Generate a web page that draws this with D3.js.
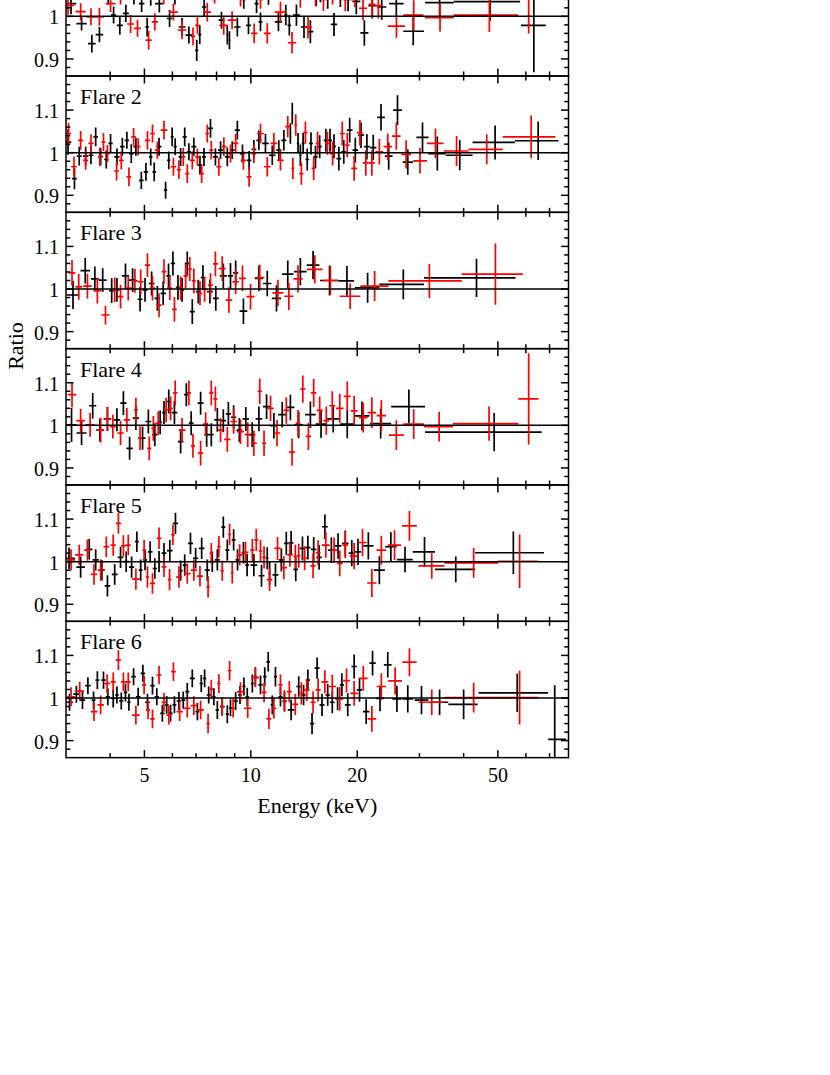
<!DOCTYPE html>
<html>
<head>
<meta charset="utf-8">
<script src="https://cdn.jsdelivr.net/npm/d3@7"></script>
<style>
  body { margin: 0; background: #fff; }
  text { font-family: "Liberation Serif", "Times New Roman", serif; fill: #000; }
</style>
</head>
<body>
<div id="chart"></div>
<script>
// ---- data: [energy keV, ratio, error] or [energy, ratio, error, binLo, binHi] for wide bins ----
const panelLabels = ["Flare 1", "Flare 2", "Flare 3", "Flare 4", "Flare 5", "Flare 6"]
const xMajorTicks = [5, 10, 20, 50]
const xMinorTicks = [4, 6, 7, 8, 9, 30, 40, 60, 70]
const yMajorTicks = [0.9, 1.0, 1.1]
const yTickLabels = ["0.9", "1", "1.1"]
const yMinorTicks = [0.88, 0.92, 0.94, 0.96, 0.98, 1.02, 1.04, 1.06, 1.08, 1.12, 1.14, 1.16]
const energyDomain = [3, 79.2]
const ratioDomain = [0.86, 1.18]

const flare1Black = [
  [3.10,1.030,.025],[3.32,0.983,.016],[3.55,0.936,.021],[3.73,0.957,.018],[3.95,1.050,.022],[4.09,1.003,.02],[4.26,0.979,.022],[4.43,1.007,.02],[4.67,1.050,.022],[4.91,1.030,.02],[5.09,0.975,.022],[5.21,1.045,.02],[5.51,1.030,.021],[5.89,0.995,.02],[6.10,1.050,.022],[6.39,0.975,.021],[6.68,0.956,.02],[7.03,0.920,.025],[7.17,0.957,.022],[7.38,1.022,.021],[7.79,1.060,.022],[8.26,0.991,.02],[8.58,0.956,.022],[8.70,0.944,.021],[9.16,0.975,.022],[9.55,1.040,.022],[9.85,0.979,.021],[10.38,1.030,.022],[10.65,0.987,.022],[11.22,1.050,.023],[11.97,0.987,.022],[12.56,1.003,.024],[12.85,0.979,.024],[13.46,1.003,.025],[14.14,0.975,.026],[14.74,0.964,.027],[15.32,1.050,.026],[15.73,1.060,.027],[16.50,1.045,.027],[17.19,0.981,.027],[17.92,1.050,.028],[18.84,1.040,.028],[19.88,1.035,.03],[20.95,0.961,.03],[22.07,1.025,.03],[23.46,1.022,.03],[25.80,1.030,.032],
  [28.8,0.965,.033,27.0,30.9],[34.2,1.032,.038,31.1,37.5],[47.5,1.0345,.045,37.5,57.8],[63.2,0.979,.11,58.1,68.3]
]
const flare1Red = [
  [3.04,1.026,.022],[3.30,1.011,.02],[3.53,0.999,.02],[3.73,0.999,.021],[4.01,1.030,.02],[4.28,1.050,.022],[4.57,0.982,.021],[4.78,0.972,.02],[5.14,0.944,.022],[5.35,0.987,.02],[5.67,1.050,.021],[6.04,1.010,.02],[6.39,0.968,.022],[6.86,0.953,.021],[7.06,0.979,.02],[7.53,1.010,.022],[7.90,1.050,.02],[8.38,0.979,.022],[8.85,0.991,.021],[9.35,1.045,.022],[10.22,0.960,.023],[10.65,1.040,.022],[11.13,0.960,.024],[12.13,1.010,.024],[13.08,0.938,.025],[13.81,1.045,.025],[14.52,0.974,.026],[15.24,1.050,.026],[16.05,1.040,.027],[17.03,1.055,.027],[18.50,1.040,.028],[19.70,1.050,.028],[20.77,1.019,.028],[22.02,1.028,.03],[22.95,1.025,.03],[25.82,0.977,.027],
  [28.9,1.003,.035,27.0,30.8],[34.3,0.997,.033,31.1,37.5],[47.3,1.003,.04,37.5,57.1],[61.1,1.060,.10,57.4,64.8]
]
const flare2Black = [
  [3.04,1.025,.03],[3.17,0.939,.025],[3.27,0.992,.022],[3.41,0.992,.022],[3.53,0.994,.021],[3.64,1.037,.022],[3.76,0.991,.02],[3.90,0.984,.021],[4.01,1.022,.022],[4.18,0.990,.02],[4.33,1.014,.021],[4.46,1.029,.02],[4.59,0.998,.022],[4.73,1.014,.021],[4.90,0.935,.02],[5.05,0.955,.021],[5.21,0.990,.02],[5.33,0.955,.022],[5.50,1.014,.021],[5.74,0.912,.02],[5.86,0.982,.021],[5.99,1.037,.022],[6.11,1.014,.02],[6.33,0.990,.021],[6.50,1.037,.022],[6.68,1.002,.02],[6.90,1.014,.021],[7.18,0.971,.022],[7.37,0.990,.021],[7.69,1.057,.022],[7.94,0.990,.02],[8.21,1.006,.021],[8.58,0.990,.022],[8.86,1.006,.021],[9.16,1.053,.022],[9.47,0.998,.021],[9.89,0.982,.022],[10.20,1.008,.022],[10.54,1.029,.023],[11.00,1.022,.022],[11.50,0.994,.023],[12.00,1.006,.023],[12.40,1.029,.024],[12.94,1.045,.024],[13.10,1.092,.025],[13.60,1.022,.024],[13.81,0.994,.025],[14.06,1.022,.025],[14.44,0.984,.026],[14.80,1.022,.026],[15.24,0.990,.026],[15.66,1.014,.027],[16.30,1.029,.027],[16.75,1.029,.027],[17.19,1.015,.028],[17.74,0.986,.028],[18.32,1.002,.028],[19.04,1.053,.029],[19.75,1.006,.029],[20.50,1.041,.03],[21.30,1.014,.03],[22.20,1.012,.03],[23.35,1.083,.031],[24.55,0.992,.032],[26.00,1.100,.035],[27.80,0.978,.03],
  [30.6,1.036,.035,29.4,31.8],[33.7,0.998,.04,31.8,35.6],[39.0,0.994,.035,35.6,42.4],[49.1,1.024,.04,42.4,55.9],[65.0,1.028,.045,55.9,74.1]
]
const flare2Red = [
  [3.05,1.045,.025],[3.16,0.967,.024],[3.30,1.029,.022],[3.41,0.982,.022],[3.53,1.022,.021],[3.74,0.990,.022],[3.83,1.025,.021],[3.93,0.998,.02],[4.17,0.957,.022],[4.30,0.982,.021],[4.52,0.943,.022],[4.66,1.037,.021],[4.80,1.014,.02],[5.10,1.029,.022],[5.27,1.045,.021],[5.44,1.006,.02],[5.68,1.053,.022],[6.04,0.967,.021],[6.26,0.960,.022],[6.44,0.990,.021],[6.61,0.951,.022],[6.83,0.982,.021],[7.06,0.990,.02],[7.26,0.951,.022],[7.53,1.045,.021],[7.73,1.006,.022],[8.12,0.967,.021],[8.39,1.014,.022],[8.76,0.998,.021],[9.06,1.022,.022],[9.53,0.982,.022],[9.89,0.943,.023],[10.20,0.998,.022],[10.65,1.045,.023],[11.13,0.967,.023],[11.62,1.022,.024],[12.13,0.982,.024],[12.72,1.061,.025],[13.15,0.963,.025],[13.40,1.065,.025],[13.90,0.951,.026],[14.27,1.047,.026],[15.06,0.963,.027],[15.45,1.022,.027],[16.47,1.022,.027],[17.03,0.998,.028],[18.14,1.045,.028],[18.74,1.018,.028],[19.60,0.963,.029],[20.35,1.047,.03],[21.15,0.976,.03],[22.00,0.976,.03],[23.10,1.002,.03],[24.40,1.014,.031],[25.80,1.039,.032],[27.50,0.996,.033],
  [30.1,0.981,.03,28.8,31.5],[33.3,1.022,.035,31.5,35.1],[38.2,1.004,.035,35.1,41.3],[46.5,1.008,.035,41.3,51.6],[62.1,1.037,.05,51.6,72.7]
]
const flare3Black = [
  [3.14,0.986,.033],[3.40,1.043,.03],[3.62,1.024,.029],[3.81,1.021,.028],[4.04,0.996,.029],[4.18,0.998,.028],[4.42,1.031,.029],[4.63,1.021,.028],[4.86,0.976,.029],[5.02,0.998,.028],[5.24,1.013,.028],[5.44,0.978,.029],[5.65,0.990,.028],[5.85,1.031,.029],[6.02,1.060,.028],[6.22,1.004,.029],[6.39,0.998,.028],[6.61,1.060,.028],[6.83,0.947,.029],[7.10,0.994,.028],[7.32,1.027,.029],[7.66,0.994,.028],[7.96,0.978,.029],[8.36,1.031,.029],[8.76,1.031,.03],[9.06,1.038,.029],[9.53,0.948,.03],[10.54,1.025,.03],[11.13,1.013,.03],[11.82,0.978,.031],[12.72,1.035,.032],[13.81,1.041,.032],[15.00,1.056,.033],
  [16.7,1.020,.035,15.7,17.7],[18.7,1.019,.035,17.7,19.6],[21.4,1.003,.035,19.7,23.1],[27.0,1.011,.035,23.1,30.9],[43.5,1.026,.045,30.9,56.1]
]
const flare3Red = [
  [3.12,1.038,.03],[3.26,1.005,.03],[3.45,1.007,.029],[3.68,0.996,.03],[3.88,0.939,.022],[4.12,0.998,.029],[4.28,0.982,.028],[4.50,1.002,.029],[4.70,1.019,.028],[4.88,1.017,.029],[5.10,1.056,.028],[5.27,1.002,.029],[5.50,0.962,.028],[5.68,1.041,.029],[5.90,1.002,.028],[6.08,0.952,.029],[6.33,1.002,.028],[6.54,1.031,.029],[6.72,1.047,.028],[6.90,1.019,.029],[7.18,0.990,.028],[7.40,0.999,.029],[7.69,1.009,.028],[7.94,1.059,.029],[8.30,1.048,.029],[8.67,0.974,.03],[9.06,1.017,.029],[9.47,1.025,.03],[9.98,0.982,.03],[10.60,1.027,.03],[11.93,0.991,.031],[12.81,0.983,.032],[13.60,1.024,.032],[15.17,1.046,.033],[16.79,1.020,.034],
  [19.1,0.983,.03,17.85,20.4],[22.4,1.007,.035,20.4,24.5],[32.0,1.019,.04,24.5,39.5],[49.2,1.035,.072,39.5,58.8]
]
const flare4Black = [
  [3.11,1.001,.04],[3.32,0.982,.028],[3.57,1.046,.03],[3.74,0.989,.027],[3.93,1.015,.028],[4.18,1.013,.027],[4.36,1.052,.028],[4.54,0.946,.027],[4.73,1.017,.028],[4.94,0.970,.027],[5.13,1.009,.028],[5.35,0.978,.027],[5.54,1.007,.028],[5.68,1.030,.027],[5.86,1.056,.028],[6.08,1.030,.027],[6.33,0.962,.028],[6.57,1.072,.027],[6.78,1.005,.028],[7.21,1.052,.027],[7.50,0.978,.028],[7.73,0.978,.027],[8.04,1.013,.028],[8.36,1.011,.027],[8.64,1.027,.028],[8.94,1.019,.028],[9.28,0.989,.028],[9.68,1.015,.028],[10.09,0.978,.029],[10.54,1.015,.029],[11.08,1.044,.029],[11.62,0.999,.03],[12.27,1.025,.03],[12.94,1.042,.03],[13.66,1.001,.031],[14.74,1.025,.031],[15.80,1.003,.032],[17.10,1.015,.032],[18.74,1.003,.033],[20.63,1.022,.034],
  [23.3,1.004,.035,21.7,24.95],[28.0,1.044,.04,24.95,31.1],[48.8,0.984,.045,31.1,66.5]
]
const flare4Red = [
  [3.12,1.072,.03],[3.30,1.011,.028],[3.51,1.001,.028],[3.76,0.989,.029],[3.93,1.015,.028],[4.07,0.997,.028],[4.28,0.982,.029],[4.46,1.013,.028],[4.73,1.036,.029],[4.86,0.970,.028],[5.16,0.946,.028],[5.30,0.993,.029],[5.47,1.005,.028],[5.76,1.036,.029],[5.93,1.040,.028],[6.11,1.076,.029],[6.39,0.989,.028],[6.68,1.076,.029],[6.86,0.952,.028],[7.21,0.935,.029],[7.45,1.003,.028],[7.73,1.076,.029],[7.94,1.062,.029],[8.21,0.989,.028],[8.58,0.967,.029],[8.94,1.009,.029],[9.35,0.985,.029],[9.80,0.978,.029],[10.20,0.958,.03],[10.60,1.080,.03],[10.90,0.958,.03],[11.37,1.040,.03],[11.86,0.982,.031],[12.60,1.035,.031],[13.08,0.937,.032],[13.60,1.005,.031],[14.03,1.085,.032],[14.55,0.974,.032],[15.06,1.076,.033],[15.66,1.035,.033],[16.35,1.011,.033],[17.00,1.046,.034],[17.85,1.040,.034],[18.74,1.068,.035],[19.60,1.034,.035],[20.80,1.018,.035],[22.00,1.030,.036],[23.40,1.023,.036],[25.80,0.977,.035],
  [28.9,1.003,.035,27.0,30.9],[34.1,0.997,.035,30.9,37.3],[47.2,1.004,.04,37.3,57.1],[61.1,1.062,.107,57.1,65.1]
]
const flare5Black = [
  [3.06,1.008,.025],[3.30,0.987,.025],[3.49,1.029,.024],[3.64,1.004,.025],[3.79,0.980,.024],[3.93,0.943,.025],[4.12,0.970,.024],[4.28,1.010,.025],[4.44,1.000,.024],[4.60,0.987,.025],[4.76,1.047,.024],[4.88,0.980,.025],[5.02,1.004,.024],[5.19,1.023,.025],[5.35,0.984,.024],[5.50,1.000,.025],[5.68,1.020,.024],[5.90,1.026,.025],[6.12,1.090,.025],[6.33,0.979,.024],[6.50,0.992,.025],[6.75,1.043,.025],[6.98,1.008,.024],[7.26,1.031,.025],[7.53,0.980,.025],[7.78,1.000,.024],[8.04,1.004,.025],[8.36,1.081,.025],[8.58,1.027,.025],[8.94,1.051,.025],[9.17,1.004,.025],[9.53,1.021,.025],[9.76,0.992,.026],[10.20,0.992,.026],[10.72,0.967,.026],[11.13,1.008,.026],[11.30,0.972,.027],[11.74,0.969,.027],[12.20,1.004,.027],[12.60,1.043,.027],[13.00,1.044,.028],[13.40,0.982,.028],[14.00,1.031,.028],[14.50,1.033,.028],[15.06,1.029,.029],[15.60,1.010,.029],[16.20,1.082,.029],[16.90,1.027,.03],[17.65,1.037,.03],[18.50,1.043,.03],[19.30,1.020,.031],[20.10,1.023,.031],[21.50,1.037,.032],[23.10,0.980,.033],[24.90,1.035,.034],
  [27.3,1.005,.03,25.9,28.7],[31.0,1.023,.035,28.7,33.2],[38.0,0.982,.03,33.2,43.1],[55.3,1.021,.05,43.1,67.5]
]
const flare5Red = [
  [3.10,1.004,.025],[3.27,1.016,.024],[3.45,1.027,.025],[3.60,0.970,.024],[3.76,0.980,.025],[3.90,1.035,.024],[4.08,1.039,.025],[4.22,1.090,.024],[4.36,1.037,.025],[4.50,1.039,.024],[4.73,0.959,.025],[4.99,1.027,.024],[5.10,0.964,.025],[5.27,0.949,.024],[5.50,1.055,.025],[5.68,0.988,.024],[5.89,0.958,.025],[6.02,1.063,.024],[6.26,0.964,.025],[6.61,0.972,.024],[6.90,0.980,.025],[7.18,0.966,.024],[7.57,0.941,.025],[7.73,1.020,.024],[8.12,1.035,.025],[8.30,0.979,.024],[8.71,1.064,.025],[8.86,0.974,.025],[9.30,1.016,.025],[9.66,1.022,.025],[10.10,1.027,.026],[10.36,1.051,.026],[10.65,1.025,.026],[10.90,1.010,.026],[11.30,0.958,.027],[11.90,1.031,.027],[12.40,0.986,.027],[12.90,1.016,.028],[13.36,1.012,.028],[13.66,1.014,.028],[14.20,1.008,.028],[15.00,0.990,.029],[15.50,1.021,.029],[16.30,1.039,.03],[17.20,1.027,.03],[17.85,0.996,.03],[18.50,1.039,.031],[19.60,1.013,.031],[20.70,1.045,.032],[22.00,0.950,.033],[23.40,1.027,.034],[25.50,1.039,.035],[28.10,1.084,.035],
  [32.5,0.990,.03,29.8,35.3],[42.7,0.997,.035,35.3,50.1],[57.6,1.001,.063,50.1,65.1]
]
const flare6Black = [
  [3.07,0.990,.02],[3.21,1.009,.02],[3.34,0.995,.021],[3.46,1.029,.02],[3.59,0.995,.02],[3.68,1.042,.021],[3.83,1.042,.02],[3.94,1.003,.02],[4.08,0.999,.021],[4.18,1.007,.02],[4.30,0.993,.02],[4.42,1.013,.021],[4.52,0.990,.02],[4.66,1.050,.02],[4.80,1.003,.021],[4.95,1.058,.02],[5.10,0.990,.02],[5.27,1.029,.021],[5.42,1.003,.02],[5.62,0.964,.02],[5.78,0.984,.021],[5.93,0.964,.02],[6.08,0.984,.02],[6.26,0.993,.021],[6.44,0.995,.02],[6.61,1.015,.02],[6.83,1.046,.021],[7.06,0.968,.02],[7.24,1.034,.02],[7.40,1.046,.021],[7.60,1.007,.02],[7.86,1.003,.02],[8.04,0.972,.021],[8.30,0.980,.02],[8.58,0.962,.021],[8.76,0.977,.02],[9.06,0.993,.021],[9.32,1.007,.021],[9.56,1.027,.021],[9.77,1.003,.021],[10.10,1.034,.021],[10.30,1.050,.022],[10.65,1.031,.022],[10.95,1.050,.022],[11.20,1.085,.023],[11.50,0.984,.022],[11.74,1.050,.023],[12.13,1.003,.023],[12.45,0.992,.023],[13.00,0.972,.024],[13.66,1.027,.024],[14.10,1.007,.024],[14.50,1.042,.025],[14.90,0.940,.025],[15.40,1.070,.025],[15.90,0.984,.026],[16.50,1.007,.026],[17.00,0.990,.026],[17.60,0.998,.027],[18.10,1.031,.027],[18.80,0.984,.027],[19.60,1.074,.028],[20.30,1.019,.028],[21.20,0.968,.029],[22.10,1.082,.029],[23.20,0.999,.03],[24.40,1.078,.03],[25.90,0.998,.031],[27.80,0.998,.032],[30.40,0.995,.033],
  [34.2,0.990,.03,32.2,36.2],[40.0,0.985,.035,36.2,43.8],[56.7,1.012,.045,44.1,69.4],[72.4,0.903,.127,69.4,78.0]
]
const flare6Red = [
  [3.10,1.003,.022],[3.28,1.016,.022],[3.60,0.968,.022],[3.76,0.984,.022],[3.92,1.034,.022],[4.08,1.038,.022],[4.22,1.089,.023],[4.36,1.038,.022],[4.50,1.038,.022],[4.73,0.960,.022],[4.99,1.031,.022],[5.12,0.972,.022],[5.27,0.951,.022],[5.50,1.054,.022],[5.68,0.990,.022],[5.86,0.960,.022],[6.04,1.062,.022],[6.29,0.968,.022],[6.61,0.976,.022],[6.90,0.982,.022],[7.21,0.972,.022],[7.57,0.940,.023],[7.73,1.021,.022],[8.12,1.034,.022],[8.30,0.980,.022],[8.71,1.064,.023],[8.91,0.976,.022],[9.35,1.015,.022],[9.80,0.976,.023],[10.30,1.048,.023],[10.90,1.013,.023],[11.25,0.951,.024],[11.62,0.976,.024],[12.13,1.031,.024],[12.45,0.993,.025],[12.85,1.015,.025],[13.36,0.985,.025],[13.90,1.011,.026],[14.40,1.019,.026],[15.00,0.990,.026],[15.50,1.019,.027],[16.20,1.038,.027],[17.00,1.027,.027],[17.85,0.998,.028],[18.65,1.041,.028],[19.60,1.011,.029],[20.80,1.046,.029],[22.00,0.951,.03],[23.40,1.027,.031],[25.60,1.040,.032],[28.10,1.084,.033],
  [32.5,0.990,.03,29.8,35.3],[42.7,1.001,.035,35.3,50.1],[57.6,1.001,.063,50.1,65.1]
]

const blackSeries = [flare1Black, flare2Black, flare3Black, flare4Black, flare5Black, flare6Black]
const redSeries = [flare1Red, flare2Red, flare3Red, flare4Red, flare5Red, flare6Red]

// ---- layout ----
const width = 830, height = 1075
const plotLeft = 66, plotRight = 568.5
const panelH = 136.33
const firstTop = 76 - panelH      // top panel is cut off by the page edge

const x = d3.scaleLog().domain(energyDomain).range([plotLeft, plotRight])

// narrow bins: crossbar spans half the gap to the nearest neighbour (log space)
function withBins(points) {
  return points.map((p, i) => {
    const [e, r, err, lo, hi] = p
    if (lo !== undefined) return {e, r, err, lo, hi}
    const gaps = []
    if (points[i - 1]) gaps.push(Math.log(e / points[i - 1][0]))
    if (points[i + 1]) gaps.push(Math.log(points[i + 1][0] / e))
    const half = d3.min(gaps) / 2
    return {e, r, err, lo: e * Math.exp(-half), hi: e * Math.exp(half)}
  })
}

const svg = d3.select("#chart").append("svg")
    .attr("width", width)
    .attr("height", height)
const defs = svg.append("defs")

panelLabels.forEach((label, i) => {
  const top = firstTop + i * panelH
  const bottom = top + panelH
  const y = d3.scaleLinear().domain(ratioDomain).range([bottom, top])

  const clipId = `panel-clip-${i}`
  defs.append("clipPath").attr("id", clipId)
    .append("rect")
      .attr("x", plotLeft).attr("y", top)
      .attr("width", plotRight - plotLeft).attr("height", panelH)

  const panel = svg.append("g")
  const plot = panel.append("g").attr("clip-path", `url(#${clipId})`)

  const series = [
    {data: withBins(blackSeries[i]), color: "#000"},
    {data: withBins(redSeries[i]), color: "#ff0000"},
  ]
  series.forEach(s => {
    plot.selectAll(null)
      .data(s.data)
      .join("path")
        .attr("d", d => `M${x(d.lo)},${y(d.r)}H${x(d.hi)}M${x(d.e)},${y(d.r - d.err)}V${y(d.r + d.err)}`)
        .attr("fill", "none")
        .attr("stroke", s.color)
        .attr("stroke-width", 1.7)
  })

  // unity line
  plot.append("line")
      .attr("x1", plotLeft).attr("x2", plotRight)
      .attr("y1", y(1)).attr("y2", y(1))
      .attr("stroke", "#000").attr("stroke-width", 1.5)

  // frame
  panel.append("rect")
      .attr("x", plotLeft).attr("y", top)
      .attr("width", plotRight - plotLeft).attr("height", panelH)
      .attr("fill", "none").attr("stroke", "#000").attr("stroke-width", 1.5)

  // ticks (inward on all four sides)
  const tickG = panel.append("g").attr("stroke", "#000").attr("stroke-width", 1.5)
  const xTicks = xMajorTicks.map(v => ({v, len: 7.5})).concat(xMinorTicks.map(v => ({v, len: 4.5})))
  xTicks.forEach(t => {
    tickG.append("line").attr("x1", x(t.v)).attr("x2", x(t.v)).attr("y1", bottom).attr("y2", bottom - t.len)
    tickG.append("line").attr("x1", x(t.v)).attr("x2", x(t.v)).attr("y1", top).attr("y2", top + t.len)
  })
  const yTicks = yMajorTicks.map(v => ({v, len: 7.5})).concat(yMinorTicks.map(v => ({v, len: 4.3})))
  yTicks.forEach(t => {
    tickG.append("line").attr("x1", plotLeft).attr("x2", plotLeft + t.len).attr("y1", y(t.v)).attr("y2", y(t.v))
    tickG.append("line").attr("x1", plotRight).attr("x2", plotRight - t.len).attr("y1", y(t.v)).attr("y2", y(t.v))
  })

  // y tick labels (only those that fall inside the page)
  panel.selectAll(null)
    .data(yMajorTicks.map((v, k) => ({v, label: yTickLabels[k]})).filter(d => y(d.v) - 8 > 0))
    .join("text")
      .attr("x", plotLeft - 7)
      .attr("y", d => y(d.v) + 8)
      .attr("text-anchor", "end")
      .attr("font-size", 20)
      .text(d => d.label)

  // panel label (the top panel's label is above the page edge)
  if (top + 10 > 0) {
    panel.append("text")
        .attr("x", 80)
        .attr("y", top + 28)
        .attr("font-size", 22)
        .text(label)
  }

  // x tick labels under the last panel only
  if (i === panelLabels.length - 1) {
    panel.selectAll(null)
      .data(xMajorTicks)
      .join("text")
        .attr("x", d => x(d))
        .attr("y", bottom + 24)
        .attr("text-anchor", "middle")
        .attr("font-size", 20)
        .text(d => d)
  }
})

const lastBottom = firstTop + panelLabels.length * panelH

svg.append("text")
    .attr("x", (plotLeft + plotRight) / 2)
    .attr("y", lastBottom + 55)
    .attr("text-anchor", "middle")
    .attr("font-size", 22)
    .text("Energy (keV)")

svg.append("text")
    .attr("transform", `translate(23,346) rotate(-90)`)
    .attr("text-anchor", "middle")
    .attr("font-size", 22)
    .text("Ratio")
</script>
</body>
</html>
